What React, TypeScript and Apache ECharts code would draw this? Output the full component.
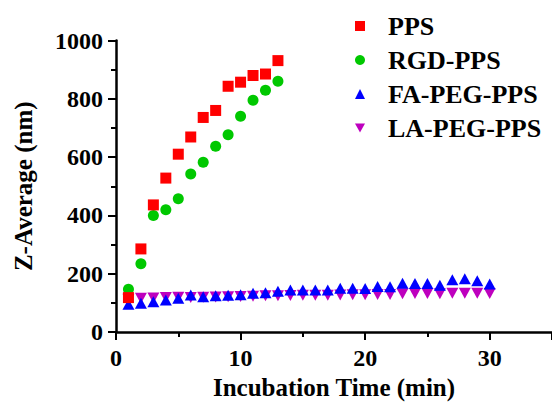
import React, { useEffect, useRef } from "react";
import * as echarts from "echarts";

const ppsX = [1, 2, 3, 4, 5, 6, 7, 8, 9, 10, 11, 12, 13];
const ppsY = [118, 285, 436, 528, 610, 669, 736, 760, 843, 857, 880, 885, 931];
const rgdY = [147, 234, 400, 419, 457, 542, 582, 637, 677, 740, 795, 829, 860];
const pegX = [1, 2, 3, 4, 5, 6, 7, 8, 9, 10, 11, 12, 13, 14, 15, 16, 17, 18, 19, 20, 21, 22, 23, 24, 25, 26, 27, 28, 29, 30];
const faY = [95, 99, 104, 110, 116, 127, 121, 124, 126, 128, 133, 135, 140, 144, 144, 144, 144, 150, 150, 149, 156, 155, 167, 166, 166, 160, 179, 183, 176, 165];
const laY = [112, 116, 117, 118, 119, 118, 119, 120, 121, 122, 123, 124, 124, 125, 126, 126, 126, 127, 128, 128, 129, 129, 131, 132, 132, 131, 133, 133, 133, 132];
const seriesNames = ["PPS", "RGD-PPS", "FA-PEG-PPS", "LA-PEG-PPS"];

const FONT = "Liberation Serif";
const DOWN_TRI = "path://M0,0L10,0L5,9Z";

function pairs(xs: number[], ys: number[]) {
  return xs.map((x, i) => [x, ys[i]]);
}

export default function App() {
  const ref = useRef<HTMLDivElement>(null);
  useEffect(() => {
    if (!ref.current) return;
    const chart = echarts.init(ref.current, null, { renderer: "svg" });
    const axisCommon = {
      axisLine: { show: true, onZero: false, lineStyle: { color: "#000", width: 2.5 } },
      axisTick: { show: true, inside: false, length: 8, lineStyle: { color: "#000", width: 2 } },
      minorTick: { show: true, splitNumber: 2, length: 5, lineStyle: { color: "#000", width: 2 } },
      splitLine: { show: false },
      axisLabel: { color: "#000", fontFamily: FONT, fontWeight: "bold", fontSize: 24, formatter: (v: number) => String(v) },
      nameTextStyle: { color: "#000", fontFamily: FONT, fontWeight: "bold", fontSize: 25 },
    };
    chart.setOption({
      animation: false,
      backgroundColor: "#fff",
      textStyle: { fontFamily: FONT },
      grid: { left: 116, right: -2, top: 40.5, bottom: 80, containLabel: false },
      legend: {
        orient: "vertical",
        left: 350,
        top: 8,
        itemWidth: 10,
        itemHeight: 10,
        itemGap: 8,
        data: [
          { name: seriesNames[0], icon: "rect" },
          { name: seriesNames[1], icon: "circle" },
          { name: seriesNames[2], icon: "triangle" },
          { name: seriesNames[3], icon: DOWN_TRI },
        ],
        textStyle: { color: "#000", fontFamily: FONT, fontWeight: "bold", fontSize: 26, padding: [0, 0, 0, 18] },
      },
      xAxis: {
        type: "value",
        min: 0,
        max: 35,
        interval: 10,
        name: "Incubation Time (min)",
        nameLocation: "middle",
        nameGap: 42,
        ...axisCommon,
        axisLabel: { ...axisCommon.axisLabel, margin: 14, showMaxLabel: false },
      },
      yAxis: {
        type: "value",
        min: 0,
        max: 1000,
        interval: 200,
        name: "Z-Average (nm)",
        nameLocation: "middle",
        nameGap: 80,
        ...axisCommon,
        axisLabel: { ...axisCommon.axisLabel, margin: 13 },
      },
      series: [
        {
          name: seriesNames[3],
          type: "scatter",
          symbol: DOWN_TRI,
          symbolSize: [12, 11],
          itemStyle: { color: "#BE00BE", opacity: 1 },
          data: pairs(pegX, laY),
          z: 2,
        },
        {
          name: seriesNames[2],
          type: "scatter",
          symbol: "triangle",
          symbolSize: [12, 11],
          itemStyle: { color: "#0000FF", opacity: 1 },
          data: pairs(pegX, faY),
          z: 3,
        },
        {
          name: seriesNames[1],
          type: "scatter",
          symbol: "circle",
          symbolSize: 11,
          itemStyle: { color: "#00C800", opacity: 1 },
          data: pairs(ppsX, rgdY),
          z: 4,
        },
        {
          name: seriesNames[0],
          type: "scatter",
          symbol: "rect",
          symbolSize: 11,
          itemStyle: { color: "#FF0000", opacity: 1 },
          data: pairs(ppsX, ppsY),
          z: 5,
        },
      ],
    });
    return () => chart.dispose();
  }, []);
  return (
    <div
      ref={ref}
      style={{ position: "absolute", left: 0, top: 0, width: 552, height: 412, background: "#fff" }}
    />
  );
}
